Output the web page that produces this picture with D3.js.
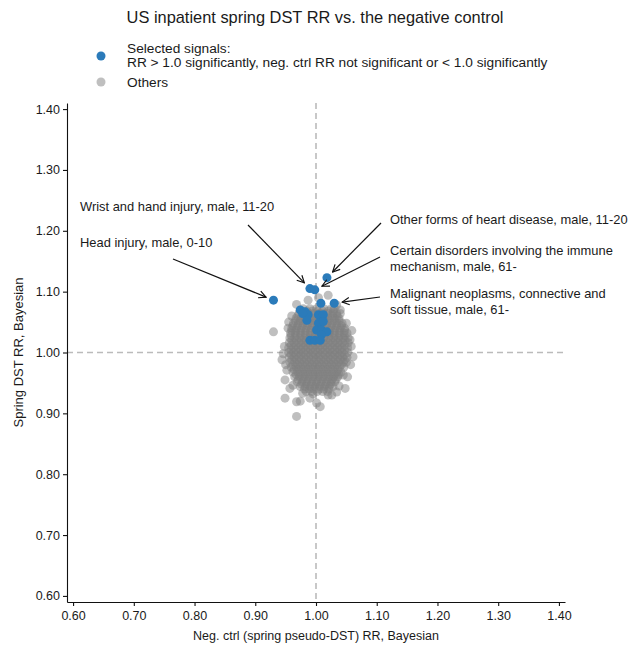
<!DOCTYPE html>
<html>
<head>
<meta charset="utf-8">
<script src="https://cdnjs.cloudflare.com/ajax/libs/d3/7.8.5/d3.min.js"></script>
<style>
  body { margin: 0; background: #fff; }
  svg text { font-family: "Liberation Sans", Arial, Helvetica, sans-serif; fill: #1a1a1a; }
</style>
</head>
<body>
<div id="chart"></div>
<script>
// tick values for both axes
var tickValues = [0.6, 0.7, 0.8, 0.9, 1.0, 1.1, 1.2, 1.3, 1.4];

// selected signals (blue): [neg ctrl RR, DST RR]
var selected = [
    [1.018, 1.123], [0.990, 1.105], [0.998, 1.103], [0.930, 1.086], [1.030, 1.081],
    [1.008, 1.081], [0.974, 1.070], [0.982, 1.067], [0.987, 1.062], [0.978, 1.064],
    [0.985, 1.053], [1.004, 1.062], [1.012, 1.062], [1.004, 1.048], [1.012, 1.051],
    [1.001, 1.037], [1.009, 1.037], [1.018, 1.034], [1.009, 1.029], [0.990, 1.020],
    [0.998, 1.020], [1.007, 1.020]
];

// the dense grey cloud, row by row: [DST RR, [neg ctrl RR ...]]
var cloudRows = [
    [1.072, [0.979, 0.990, 1.001, 1.013, 1.025]],
    [1.068, [0.976, 0.985, 0.994, 1.003, 1.011, 1.020, 1.029]],
    [1.064, [0.972, 0.980, 0.988, 0.996, 1.004, 1.012, 1.020, 1.028, 1.034]],
    [1.060, [0.970, 0.979, 0.987, 0.995, 1.003, 1.011, 1.019, 1.027, 1.035]],
    [1.056, [0.967, 0.975, 0.983, 0.991, 0.999, 1.007, 1.015, 1.023, 1.031, 1.038]],
    [1.052, [0.966, 0.974, 0.982, 0.990, 0.998, 1.006, 1.014, 1.022, 1.030, 1.038]],
    [1.048, [0.963, 0.971, 0.979, 0.987, 0.995, 1.003, 1.011, 1.019, 1.027, 1.035, 1.043]],
    [1.044, [0.962, 0.970, 0.978, 0.986, 0.994, 1.002, 1.010, 1.018, 1.026, 1.034, 1.042]],
    [1.040, [0.960, 0.968, 0.976, 0.984, 0.992, 1.000, 1.008, 1.016, 1.024, 1.032, 1.040, 1.047]],
    [1.036, [0.960, 0.967, 0.975, 0.983, 0.991, 0.999, 1.007, 1.015, 1.023, 1.031, 1.039, 1.047]],
    [1.032, [0.958, 0.966, 0.974, 0.982, 0.990, 0.998, 1.006, 1.014, 1.022, 1.030, 1.038, 1.046, 1.051]],
    [1.028, [0.959, 0.967, 0.975, 0.983, 0.991, 0.999, 1.007, 1.015, 1.023, 1.031, 1.039, 1.047]],
    [1.024, [0.957, 0.965, 0.973, 0.981, 0.989, 0.997, 1.005, 1.013, 1.021, 1.029, 1.037, 1.045, 1.053]],
    [1.020, [0.960, 0.968, 0.976, 0.984, 0.992, 1.000, 1.008, 1.016, 1.024, 1.032, 1.040, 1.048]],
    [1.016, [0.956, 0.964, 0.972, 0.980, 0.988, 0.996, 1.004, 1.012, 1.020, 1.028, 1.036, 1.044, 1.053]],
    [1.012, [0.959, 0.967, 0.975, 0.983, 0.991, 0.999, 1.007, 1.015, 1.023, 1.031, 1.039, 1.047]],
    [1.008, [0.955, 0.963, 0.971, 0.979, 0.987, 0.995, 1.003, 1.011, 1.019, 1.027, 1.035, 1.043, 1.052]],
    [1.004, [0.959, 0.967, 0.975, 0.983, 0.991, 0.999, 1.007, 1.015, 1.023, 1.031, 1.039, 1.047]],
    [1.000, [0.955, 0.963, 0.971, 0.979, 0.987, 0.995, 1.003, 1.011, 1.019, 1.027, 1.035, 1.043, 1.052]],
    [0.996, [0.959, 0.967, 0.975, 0.983, 0.991, 0.999, 1.007, 1.015, 1.023, 1.031, 1.039, 1.047]],
    [0.992, [0.956, 0.964, 0.972, 0.980, 0.988, 0.996, 1.004, 1.012, 1.020, 1.028, 1.036, 1.044, 1.051]],
    [0.988, [0.960, 0.968, 0.976, 0.984, 0.992, 1.000, 1.008, 1.016, 1.024, 1.032, 1.040, 1.047]],
    [0.984, [0.957, 0.965, 0.973, 0.981, 0.989, 0.997, 1.005, 1.013, 1.021, 1.029, 1.037, 1.045, 1.050]],
    [0.980, [0.962, 0.970, 0.978, 0.986, 0.994, 1.002, 1.010, 1.018, 1.026, 1.034, 1.042]],
    [0.976, [0.959, 0.967, 0.975, 0.983, 0.991, 0.999, 1.007, 1.015, 1.023, 1.031, 1.039, 1.046]],
    [0.972, [0.964, 0.972, 0.980, 0.988, 0.996, 1.004, 1.012, 1.020, 1.028, 1.036]],
    [0.968, [0.962, 0.970, 0.978, 0.986, 0.994, 1.002, 1.010, 1.018, 1.026, 1.034, 1.041]],
    [0.964, [0.967, 0.975, 0.983, 0.991, 0.999, 1.007, 1.015, 1.023, 1.031, 1.038]],
    [0.960, [0.965, 0.973, 0.981, 0.989, 0.997, 1.005, 1.013, 1.021, 1.029, 1.036]],
    [0.956, [0.971, 0.979, 0.987, 0.995, 1.003, 1.011, 1.019, 1.027, 1.033]],
    [0.952, [0.969, 0.977, 0.985, 0.993, 1.001, 1.009, 1.017, 1.025, 1.031]],
    [0.948, [0.976, 0.984, 0.992, 1.000, 1.008, 1.016, 1.024]],
    [0.944, [0.974, 0.982, 0.990, 0.998, 1.006, 1.014, 1.022, 1.028]],
    [0.940, [0.981, 0.989, 0.997, 1.005, 1.013, 1.021]],
    [0.936, [0.984, 0.993, 1.002, 1.011, 1.019]]
];

// scattered grey points around the cloud
var others = [
    [0.930, 1.034], [0.968, 1.079], [0.987, 1.086], [1.004, 1.090], [1.020, 1.094],
    [1.034, 1.078], [1.040, 1.064], [1.050, 1.048], [1.059, 1.036], [0.954, 1.040],
    [1.056, 1.021], [1.061, 0.993], [0.944, 0.988], [0.952, 0.971], [0.949, 0.955],
    [0.957, 0.941], [0.949, 0.925], [0.968, 0.919], [0.974, 0.920], [0.990, 0.925],
    [1.001, 0.917], [1.007, 0.911], [0.968, 0.895], [1.020, 0.930], [1.026, 0.930],
    [1.048, 0.941], [1.045, 0.963], [0.948, 1.010], [0.946, 0.998], [1.058, 1.010],
    [1.057, 0.980], [1.052, 0.960], [0.950, 0.980], [0.962, 0.946], [1.038, 0.945],
    [1.040, 1.070], [0.960, 1.060], [0.955, 1.050], [1.034, 0.935], [0.995, 0.932],
    [0.978, 0.933], [1.030, 1.072]
];

var greyPoints = [];
cloudRows.forEach(function (row) {
    row[1].forEach(function (x) { greyPoints.push([x, row[0]]); });
});
greyPoints = greyPoints.concat(others);

// annotations: label lines, text anchor, arrow start, target point
var notes = [
    { lines: ["Wrist and hand injury, male, 11-20"], tx: 80, ty: 211, from: [248, 225], to: [0.990, 1.105] },
    { lines: ["Head injury, male, 0-10"], tx: 80, ty: 247, from: [173, 259], to: [0.930, 1.086] },
    { lines: ["Other forms of heart disease, male, 11-20"], tx: 390, ty: 224, from: [381, 223], to: [1.018, 1.123] },
    { lines: ["Certain disorders involving the immune", "mechanism, male, 61-"], tx: 390, ty: 255, from: [380, 257], to: [0.998, 1.103] },
    { lines: ["Malignant neoplasms, connective and", "soft tissue, male, 61-"], tx: 390, ty: 298, from: [380, 297], to: [1.030, 1.081] }
];

var svgWidth = 629;
var svgHeight = 648;

var svg = d3.select("#chart")
    .append("svg")
    .attr("width", svgWidth)
    .attr("height", svgHeight);

var defs = svg.append("defs");
defs.append("marker")
    .attr("id", "arrow")
    .attr("viewBox", "0 0 10 10")
    .attr("refX", 9)
    .attr("refY", 5)
    .attr("markerWidth", 9)
    .attr("markerHeight", 9)
    .attr("markerUnits", "userSpaceOnUse")
    .attr("orient", "auto")
    .append("path")
    .attr("d", "M1,1 L9,5 L1,9")
    .attr("fill", "none")
    .attr("stroke", "#111")
    .attr("stroke-width", 1.3);

// scales
var xScale = d3.scaleLinear().domain([0.59, 1.41]).range([67, 565]);
var yScale = d3.scaleLinear().domain([0.59, 1.41]).range([602, 103]);

// reference lines at 1.0
svg.append("line")
    .attr("x1", xScale(1.0)).attr("x2", xScale(1.0))
    .attr("y1", yScale(1.41)).attr("y2", yScale(0.59))
    .attr("stroke", "#bbbbbb").attr("stroke-width", 1.6)
    .attr("stroke-dasharray", "6,4");
svg.append("line")
    .attr("x1", xScale(0.59)).attr("x2", xScale(1.41))
    .attr("y1", yScale(1.0)).attr("y2", yScale(1.0))
    .attr("stroke", "#bbbbbb").attr("stroke-width", 1.6)
    .attr("stroke-dasharray", "6,4");

// grey points
svg.append("g").selectAll("circle")
    .data(greyPoints)
    .enter()
    .append("circle")
    .attr("cx", d => xScale(d[0]))
    .attr("cy", d => yScale(d[1]))
    .attr("r", 4.5)
    .attr("fill", "#808080")
    .attr("fill-opacity", 0.5);

// selected points
svg.append("g").selectAll("circle")
    .data(selected)
    .enter()
    .append("circle")
    .attr("cx", d => xScale(d[0]))
    .attr("cy", d => yScale(d[1]))
    .attr("r", 4.5)
    .attr("fill", "#2b7bba");

// axes
var xAxis = d3.axisBottom(xScale).tickValues(tickValues).tickFormat(d3.format(".2f")).tickSize(4).tickSizeOuter(0);
var yAxis = d3.axisLeft(yScale).tickValues(tickValues).tickFormat(d3.format(".2f")).tickSize(4).tickSizeOuter(0);

var gx = svg.append("g").attr("transform", `translate(0, ${yScale(0.59)})`).call(xAxis);
var gy = svg.append("g").attr("transform", `translate(${xScale(0.59)}, 0)`).call(yAxis);

[gx, gy].forEach(function (g) {
    g.selectAll("path, line").attr("stroke", "#111").attr("stroke-width", 1.1);
    g.selectAll("text").attr("font-size", "12.5px").attr("fill", "#1a1a1a");
});
gx.selectAll("text").attr("dy", "0.9em");

// axis titles
svg.append("text")
    .attr("x", xScale(1.0))
    .attr("y", 640)
    .attr("text-anchor", "middle")
    .attr("font-size", "12.5px")
    .text("Neg. ctrl (spring pseudo-DST) RR, Bayesian");

svg.append("text")
    .attr("transform", `translate(23, ${yScale(1.0)}) rotate(-90)`)
    .attr("text-anchor", "middle")
    .attr("font-size", "13px")
    .text("Spring DST RR, Bayesian");

// title
svg.append("text")
    .attr("x", 315)
    .attr("y", 23)
    .attr("text-anchor", "middle")
    .attr("font-size", "16.4px")
    .text("US inpatient spring DST RR vs. the negative control");

// legend
svg.append("circle").attr("cx", 101).attr("cy", 56).attr("r", 4.5).attr("fill", "#2b7bba");
svg.append("circle").attr("cx", 101).attr("cy", 82).attr("r", 4.5).attr("fill", "#808080").attr("fill-opacity", 0.5);
svg.append("text").attr("x", 127).attr("y", 53).attr("font-size", "13.7px").text("Selected signals:");
svg.append("text").attr("x", 127).attr("y", 67).attr("font-size", "13.7px")
    .text("RR > 1.0 significantly, neg. ctrl RR not significant or < 1.0 significantly");
svg.append("text").attr("x", 127).attr("y", 87).attr("font-size", "13.7px").text("Others");

// annotations
notes.forEach(function (n) {
    var t = svg.append("text").attr("x", n.tx).attr("y", n.ty).attr("font-size", "12.9px");
    n.lines.forEach(function (line, i) {
        t.append("tspan").attr("x", n.tx).attr("dy", i === 0 ? 0 : 16).text(line);
    });
    var px = xScale(n.to[0]), py = yScale(n.to[1]);
    var dx = px - n.from[0], dy = py - n.from[1];
    var len = Math.sqrt(dx * dx + dy * dy);
    var gap = 8;
    svg.append("line")
        .attr("x1", n.from[0]).attr("y1", n.from[1])
        .attr("x2", px - dx / len * gap).attr("y2", py - dy / len * gap)
        .attr("stroke", "#111").attr("stroke-width", 1.2)
        .attr("marker-end", "url(#arrow)");
});
</script>
</body>
</html>
